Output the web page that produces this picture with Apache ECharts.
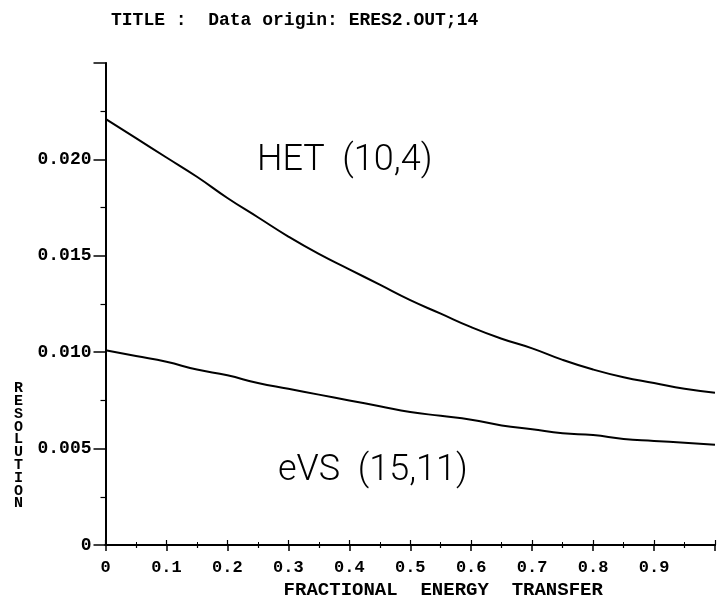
<!DOCTYPE html>
<html>
<head>
<meta charset="utf-8">
<script src="https://cdn.jsdelivr.net/npm/echarts@6/dist/echarts.min.js"></script>
<style>html,body{margin:0;padding:0;background:#fff;}#chart{width:718px;height:605px;}</style>
</head>
<body>
<div id="chart"></div>
<script>
// Fractional energy transfer (x) sampled every 0.05
const energyTransfer = [0, 0.05, 0.1, 0.15, 0.2, 0.25, 0.3, 0.35, 0.4, 0.45, 0.5, 0.55, 0.6, 0.65, 0.7, 0.75, 0.8, 0.85, 0.9, 0.95, 1.0];
// HET (10,4) resolution
const hetResolution = [0.0221, 0.0211, 0.0201, 0.0191, 0.0180, 0.0170, 0.0160, 0.0151, 0.0143, 0.0135, 0.0127, 0.0120, 0.0113, 0.0107, 0.0102, 0.0096, 0.0091, 0.0087, 0.0084, 0.0081, 0.0079];
// eVS (15,11) resolution
const evsResolution = [0.0101, 0.0098, 0.0095, 0.0091, 0.0088, 0.0084, 0.0081, 0.0078, 0.0075, 0.0072, 0.0069, 0.0067, 0.0065, 0.0062, 0.0060, 0.0058, 0.0057, 0.0055, 0.0054, 0.0053, 0.0052];
const xTickLabels = ['0', '0.1', '0.2', '0.3', '0.4', '0.5', '0.6', '0.7', '0.8', '0.9', ''];
const yTickLabels = ['0', '0.005', '0.010', '0.015', '0.020', ''];
const chartTitle = 'TITLE :  Data origin: ERES2.OUT;14';
const xTitle = 'FRACTIONAL  ENERGY  TRANSFER';
const yTitle = 'RESOLUTION';
const curveLabels = ['HET  (10,4)', 'eVS  (15,11)'];

const mono = 'Liberation Mono';
const chart = echarts.init(document.getElementById('chart'), null, {renderer: 'canvas'});
const pair = (xs, ys) => xs.map((x, i) => [x, ys[i]]);

chart.setOption({
  backgroundColor: '#fff',
  animation: false,
  title: [
    {text: chartTitle, left: 106, top: 6, textStyle: {fontFamily: mono, fontSize: 18, fontWeight: 'bold', color: '#000'}},
    {text: yTitle.split('').join('\n'), left: 9, top: 377, textStyle: {fontFamily: mono, fontSize: 15, lineHeight: 12.8, fontWeight: 'bold', color: '#000'}},
    {text: curveLabels[0], left: 252, top: 138, textStyle: {fontFamily: 'Roboto', fontSize: 36, fontWeight: 300, color: '#000'}},
    {text: curveLabels[1], left: 273, top: 448, textStyle: {fontFamily: 'Roboto', fontSize: 36, fontWeight: 300, color: '#000'}}
  ],
  grid: {left: 105.5, right: 2, top: 63, bottom: 55, containLabel: false},
  xAxis: [
    {
      type: 'value', min: 0, max: 1, interval: 0.1, position: 'bottom',
      name: xTitle, nameLocation: 'middle', nameGap: 36,
      nameTextStyle: {fontFamily: mono, fontSize: 19, fontWeight: 'bold', color: '#000', padding: [0, 0, 0, 66]},
      axisLine: {lineStyle: {color: '#000', width: 2}},
      axisTick: {length: 6, lineStyle: {color: '#000', width: 1.5}},
      minorTick: {show: true, splitNumber: 2, length: 3, lineStyle: {color: '#000', width: 1.2}},
      splitLine: {show: false},
      axisLabel: {margin: 14, fontFamily: mono, fontSize: 17, fontWeight: 'bold', color: '#000',
        formatter: (v) => xTickLabels[Math.round(v * 10)]}
    },
    {
      type: 'value', min: 0, max: 1, interval: 0.1, position: 'top',
      axisLine: {lineStyle: {color: '#000', width: 2}},
      axisTick: {length: 5, lineStyle: {color: '#000', width: 1.2}},
      minorTick: {show: true, splitNumber: 2, length: 3, lineStyle: {color: '#000', width: 1}},
      splitLine: {show: false},
      axisLabel: {show: false}
    }
  ],
  yAxis: [
    {
      type: 'value', min: 0, max: 0.025, interval: 0.005, position: 'left',
      axisLine: {lineStyle: {color: '#000', width: 2}},
      axisTick: {length: 12, lineStyle: {color: '#000', width: 1.5}},
      minorTick: {show: true, splitNumber: 2, length: 5, lineStyle: {color: '#000', width: 1.2}},
      splitLine: {show: false},
      axisLabel: {margin: 14, fontFamily: mono, fontSize: 18, fontWeight: 'bold', color: '#000', padding: [0, 0, 6, 0],
        formatter: (v) => yTickLabels[Math.round(v / 0.005)]}
    },
    {
      type: 'value', min: 0, max: 0.025, interval: 0.005, position: 'right',
      axisLine: {show: true, lineStyle: {color: '#000', width: 1.5}},
      axisTick: {show: false}, axisLabel: {show: false}, splitLine: {show: false}
    }
  ],
  series: [
    {name: 'HET (10,4)', type: 'line', data: pair(energyTransfer, hetResolution), smooth: true, showSymbol: false,
      lineStyle: {color: '#000', width: 2}},
    {name: 'eVS (15,11)', type: 'line', data: pair(energyTransfer, evsResolution), smooth: true, showSymbol: false,
      lineStyle: {color: '#000', width: 2}}
  ]
});
</script>
</body>
</html>
